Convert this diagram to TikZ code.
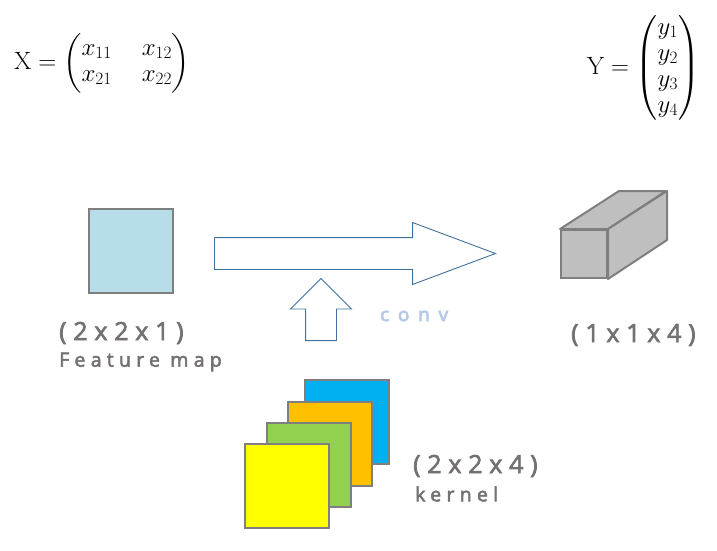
\documentclass[tikz,border=0pt]{standalone}
\usepackage{amsmath}
\usepackage{fontspec}
\usetikzlibrary{shapes, positioning}

\newfontfamily\dimfont[LetterSpace=27, FakeBold=2.8]{Open Sans}
\newfontfamily\convfont[LetterSpace=46, FakeBold=3.6]{Open Sans}

\definecolor{labelgray}{RGB}{118,113,113}
\definecolor{arrowblue}{RGB}{65,113,156}
\definecolor{convblue}{RGB}{180,199,231}
\definecolor{mapblue}{RGB}{183,221,232}
\definecolor{edgegray}{RGB}{127,127,127}
\definecolor{boxgray}{RGB}{191,191,191}
\definecolor{kblue}{RGB}{0,176,240}
\definecolor{korange}{RGB}{255,192,0}
\definecolor{kgreen}{RGB}{146,208,80}
\definecolor{kyellow}{RGB}{255,255,0}

\begin{document}
\begin{tikzpicture} [
    x=1pt, y=-1pt,
    square/.style={rectangle, draw=edgegray, line width=2pt, minimum size=84pt, inner sep=0pt},
    cube/.style={draw=edgegray, fill=boxgray, line width=2pt, line join=round},
    dim/.style={font=\dimfont\fontsize{25}{28}\selectfont, text=labelgray, inner sep=0pt, anchor=west},
    note/.style={font=\dimfont\fontsize{19.5}{22}\selectfont, text=labelgray, inner sep=0pt, anchor=west},
    blockarrow/.style={single arrow, draw=arrowblue, fill=white, line width=0.9pt, inner sep=15.5pt, single arrow head extend=15pt, anchor=tail},
    mat/.style={font=\fontsize{25}{26}\selectfont, inner sep=0pt}
]
\useasboundingbox (0,0) rectangle (717,550);

% LAYER 1: Matrices on top
\node[mat, anchor=west] (xmat) at (14,63) {\setlength{\arraycolsep}{15pt}$\mathrm{X}=\begin{pmatrix} x_{11} & x_{12}\\ x_{21} & x_{22}\end{pmatrix}$};
\node[mat, anchor=east] (ymat) at (700,68) {$\mathrm{Y}=\begin{pmatrix} y_1\\ y_2\\ y_3\\ y_4\end{pmatrix}$};

% LAYER 2: Feature map and output
\node[square, fill=mapblue] (fmap) at (131,251) {};
\node[dim] (fmapdim) at (59,333) {(2x2x1)};
\node[note] (fmaptext) at (59,362) {Feature map};

\node[rectangle, draw=edgegray, fill=boxgray, line width=2pt, minimum width=46pt, minimum height=48pt, inner sep=0pt] (outfront) at (584,254) {};
\draw[cube] (outfront.north west) -- ++(59,-38) -- ++(47,0) -- (outfront.north east) -- cycle;
\draw[cube] (outfront.north east) -- ++(59,-38) -- ++(0,49) -- (outfront.south east) -- cycle;
\node[dim] (outdim) at (571,335) {(1x1x4)};

% LAYER 3: Block arrows
\node[blockarrow, minimum height=281pt, single arrow tip angle=41] (convarrow) at (214,253.5) {};
\node[blockarrow, inner sep=15pt, minimum height=62pt, single arrow tip angle=90, shape border rotate=90] (kernarrow) at (321,341) {};
\node[font=\convfont\fontsize{19}{21}\selectfont, text=convblue, inner sep=0pt, anchor=west] (convtext) at (380,316) {conv};

% LAYER 4: Kernel stack, back to front
\node[square, fill=kblue] (kblue) at (347,422) {};
\node[square, fill=korange] (korange) at (330,444) {};
\node[square, fill=kgreen] (kgreen) at (308.5,464.5) {};
\node[square, fill=kyellow] (kyellow) at (286.5,486) {};
\node[dim] (kerndim) at (413,466) {(2x2x4)};
\node[note] (kerntext) at (415,494) {kernel};

\end{tikzpicture}
\end{document}
